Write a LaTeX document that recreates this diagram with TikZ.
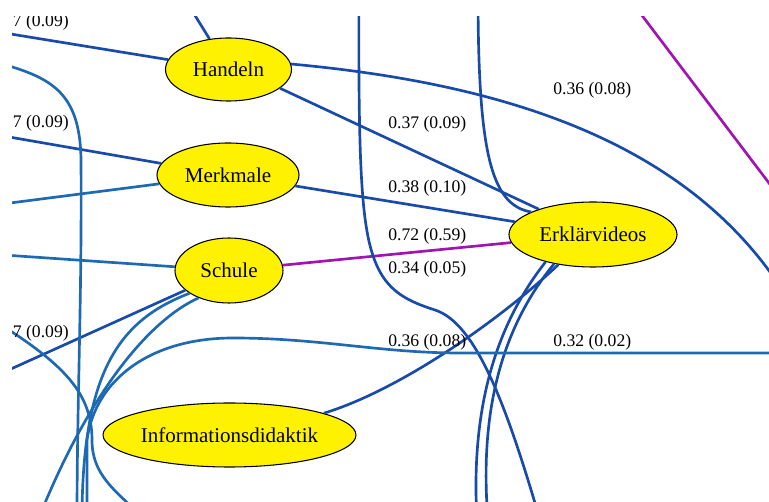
\documentclass[tikz,border=0pt]{standalone}
\usepackage{fontspec}
\setmainfont{Liberation Serif}
\usetikzlibrary{shapes.geometric}
\definecolor{dblue}{RGB}{24,74,170}
\definecolor{lblue}{RGB}{30,105,180}
\definecolor{lila}{RGB}{160,20,176}
\begin{document}
\begin{tikzpicture}[x=0.75pt,y=-0.75pt,
    thema/.style={ellipse,draw=black,line width=0.8pt,fill=yellow,inner sep=0pt,font=\fontsize{15.75}{18}\selectfont},
    kante/.style={dblue,line width=2pt},
    kanteb/.style={lblue,line width=2pt},
    kantep/.style={lila,line width=2pt},
    wert/.style={inner sep=0pt,font=\fontsize{13.25}{15}\selectfont}]
    \useasboundingbox (0,0) rectangle (769,502);
    \clip (12,17) rectangle (769,502);
    \node[thema,minimum width=94.5pt,minimum height=47.25pt] (handeln) at (228.5,69.5) {Handeln};
    \node[thema,minimum width=106.5pt,minimum height=48pt] (merkmale) at (228,175) {Merkmale};
    \node[thema,minimum width=81pt,minimum height=48.75pt] (schule) at (229,270.5) {Schule};
    \node[thema,minimum width=126pt,minimum height=48.75pt] (erkl) at (593,234.5) {Erklärvideos};
    \node[thema,minimum width=189.75pt,minimum height=48pt] (info) at (229.5,435) {Informationsdidaktik};
    \coordinate (nH) at (173,-20);
    \coordinate (wH) at (-60,22.5);
    \coordinate (wM1) at (-60,125);
    \coordinate (wM2) at (-60,212);
    \coordinate (wS1) at (-60,250.6);
    \coordinate (wS2) at (-60,401);
    \coordinate (w3) at (-20,58);
    \coordinate (w4) at (-20,312);
    \coordinate (oH) at (800,320);
    \coordinate (o2) at (800,353);
    \coordinate (nE1) at (478,-10);
    \coordinate (nE2) at (359,-10);
    \coordinate (nP) at (625,-7);
    \coordinate (oP) at (800,224);
    \coordinate (s1) at (540,520);
    \coordinate (s2) at (477,520);
    \coordinate (s3) at (488,520);
    \coordinate (s4) at (87,520);
    \coordinate (s5) at (77,520);
    \coordinate (s6) at (140,515);
    \coordinate (s7) at (38,520);
    \coordinate (s8) at (82,520);
    \draw[kante] (handeln) -- (wH);
    \draw[kante] (handeln) -- (nH);
    \draw[kante] (merkmale) -- (wM1);
    \draw[kanteb] (merkmale) -- (wM2);
    \draw[kanteb] (schule) -- (wS1);
    \draw[kante] (schule) -- (wS2);
    \draw[kante] (handeln.-20) -- (erkl);
    \draw[kante] (merkmale) -- (erkl);
    \draw[kantep] (schule) -- (erkl);
    \draw[kantep] (nP) -- (oP);
    \draw[kante] (handeln.5) .. controls (520,85) and (710,150) .. (oH);
    \draw[kante] (nE1) .. controls (478,150) and (490,205) .. (erkl.160);
    \draw[kante] (nE2) .. controls (358,180) and (362,235) .. (378,268) .. controls (390,293) and (410,302) .. (435,310) .. controls (475,323) and (505,400) .. (s1);
    \draw[kante] (erkl.-139) .. controls (500,320) and (400,390) .. (info.13);
    \draw[kante] (erkl.-150) .. controls (500,320) and (470,400) .. (s2);
    \draw[kante] (erkl.-143) .. controls (508,320) and (478,400) .. (s3);
    \draw[kanteb] (o2) -- (460,353) .. controls (380,353) and (320,338) .. (233,338) .. controls (150,338) and (95,380) .. (87,440) -- (s4);
    \draw[kanteb] (w3) .. controls (45,75) and (80,85) .. (81,160) .. controls (82,300) and (77,400) .. (s5);
    \draw[kanteb] (w4) .. controls (60,360) and (92,390) .. (92,440) .. controls (92,475) and (115,490) .. (s6);
    \draw[kanteb] (schule.-138) .. controls (150,320) and (90,390) .. (s7);
    \draw[kanteb] (schule.-150) .. controls (120,320) and (82,370) .. (s8);
    \node[wert,anchor=east] (l1) at (69,22) {0.37 (0.09)};
    \node[wert,anchor=east] (l2) at (69,123) {0.37 (0.09)};
    \node[wert,anchor=east] (l3) at (69,333) {0.37 (0.09)};
    \node[wert,anchor=west] (l4) at (553,90) {0.36 (0.08)};
    \node[wert,anchor=west] (l5) at (388,124) {0.37 (0.09)};
    \node[wert,anchor=west] (l6) at (388,188) {0.38 (0.10)};
    \node[wert,anchor=west] (l7) at (388,236) {0.72 (0.59)};
    \node[wert,anchor=west] (l8) at (388,269) {0.34 (0.05)};
    \node[wert,anchor=west] (l9) at (388,342) {0.36 (0.08)};
    \node[wert,anchor=west] (l10) at (553,342) {0.32 (0.02)};
\end{tikzpicture}
\end{document}
